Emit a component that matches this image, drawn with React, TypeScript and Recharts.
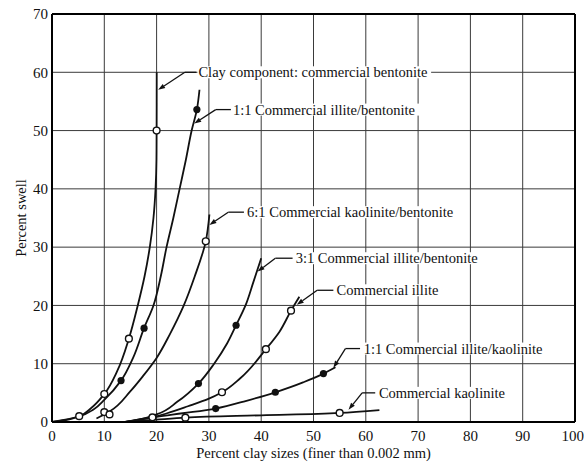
import {
  ComposedChart,
  Line,
  Scatter,
  XAxis,
  YAxis,
  CartesianGrid,
  ReferenceLine,
} from "recharts";

interface Pt {
  x: number;
  y: number;
}

const X_TICKS = [0, 10, 20, 30, 40, 50, 60, 70, 80, 90, 100];
const Y_TICKS = [0, 10, 20, 30, 40, 50, 60, 70];

// fitted curves
const bentoniteCurve: Pt[] = [
  { x: 0, y: 0 }, { x: 2.5, y: 0.3 }, { x: 5.2, y: 1 }, { x: 7.5, y: 2.4 },
  { x: 10, y: 4.8 }, { x: 12.5, y: 8.8 }, { x: 14.7, y: 14.3 }, { x: 16.4, y: 20 },
  { x: 17.7, y: 25 }, { x: 18.7, y: 30 }, { x: 19.4, y: 35 }, { x: 19.8, y: 40 },
  { x: 19.97, y: 45 }, { x: 20, y: 50 }, { x: 20.02, y: 60 },
];
const illiteBent11Curve: Pt[] = [
  { x: 0, y: 0 }, { x: 5, y: 0.9 }, { x: 8, y: 2.2 }, { x: 10, y: 3.8 },
  { x: 13.2, y: 7.1 }, { x: 15.5, y: 11 }, { x: 17.6, y: 16.1 }, { x: 19.4, y: 20 },
  { x: 20.8, y: 25 }, { x: 21.9, y: 30 }, { x: 23.2, y: 35 }, { x: 24.4, y: 40 },
  { x: 25.6, y: 45 }, { x: 26.7, y: 50 }, { x: 27.7, y: 53.6 }, { x: 28.2, y: 57 },
];
const kaoBent61Curve: Pt[] = [
  { x: 8.5, y: 0.6 }, { x: 11, y: 1.8 }, { x: 15, y: 5.3 }, { x: 17.5, y: 8 },
  { x: 20, y: 11 }, { x: 22.5, y: 15 }, { x: 25.2, y: 20 }, { x: 27.3, y: 25 },
  { x: 29.4, y: 31 }, { x: 30.1, y: 35.6 },
];
const illiteBent31Curve: Pt[] = [
  { x: 14, y: 0 }, { x: 17, y: 0.5 }, { x: 20, y: 1.3 }, { x: 24, y: 3.5 },
  { x: 28, y: 6.6 }, { x: 31, y: 10 }, { x: 33.5, y: 13.5 }, { x: 35.2, y: 16.6 },
  { x: 37, y: 20 }, { x: 38.5, y: 24 }, { x: 40, y: 28.1 },
];
const illiteCurve: Pt[] = [
  { x: 14, y: 0 }, { x: 19.2, y: 0.8 }, { x: 22, y: 1.5 }, { x: 26, y: 2.7 },
  { x: 30, y: 4 }, { x: 32.5, y: 5.1 }, { x: 36, y: 7.5 }, { x: 40.9, y: 12.5 },
  { x: 43.5, y: 15.5 }, { x: 45.7, y: 19.1 }, { x: 47.3, y: 21.5 },
];
const illiteKao11Curve: Pt[] = [
  { x: 14, y: 0 }, { x: 20, y: 0.9 }, { x: 25, y: 1.5 }, { x: 31.3, y: 2.3 },
  { x: 37, y: 3.6 }, { x: 42.7, y: 5.1 }, { x: 48, y: 6.8 }, { x: 51.9, y: 8.3 },
  { x: 54.2, y: 9.4 },
];
const kaoliniteCurve: Pt[] = [
  { x: 14, y: 0 }, { x: 20, y: 0.4 }, { x: 25.5, y: 0.75 }, { x: 40, y: 1.15 },
  { x: 55, y: 1.55 }, { x: 62.6, y: 2.05 },
];

// measured points
const openPoints: Pt[] = [
  { x: 5.2, y: 1 }, { x: 10, y: 4.8 }, { x: 14.7, y: 14.3 }, { x: 20, y: 50 },
  { x: 10, y: 1.7 }, { x: 11, y: 1.3 }, { x: 29.4, y: 31 },
  { x: 19.2, y: 0.8 }, { x: 32.5, y: 5.1 }, { x: 40.9, y: 12.5 }, { x: 45.7, y: 19.1 },
  { x: 25.5, y: 0.75 }, { x: 55, y: 1.55 },
];
const filledPoints: Pt[] = [
  { x: 13.2, y: 7.1 }, { x: 17.6, y: 16.1 }, { x: 27.7, y: 53.6 },
  { x: 28, y: 6.6 }, { x: 35.2, y: 16.6 },
  { x: 31.3, y: 2.3 }, { x: 42.7, y: 5.1 }, { x: 51.9, y: 8.3 },
];

// steep curves interpolate along y, flat ones along x
const curves: [Pt[], string][] = [
  [bentoniteCurve, "monotoneY"],
  [illiteBent11Curve, "monotoneY"],
  [kaoBent61Curve, "monotoneY"],
  [illiteBent31Curve, "monotoneY"],
  [illiteCurve, "monotoneY"],
  [illiteKao11Curve, "monotoneX"],
  [kaoliniteCurve, "monotoneX"],
];

// label text, text anchor, leader elbow and arrow tip (data units)
const labelTexts = [
  "Clay component: commercial bentonite",
  "1:1 Commercial illite/bentonite",
  "6:1 Commercial kaolinite/bentonite",
  "3:1 Commercial illite/bentonite",
  "Commercial illite",
  "1:1 Commercial illite/kaolinite",
  "Commercial kaolinite",
];
const labelAt: Pt[] = [
  { x: 28.0, y: 60 }, { x: 34.6, y: 53.6 }, { x: 37.3, y: 36.0 }, { x: 46.6, y: 28.1 },
  { x: 54.4, y: 22.6 }, { x: 59.6, y: 12.6 }, { x: 62.5, y: 5.0 },
];
const leaderStart: Pt[] = [
  { x: 27.6, y: 60 }, { x: 34.2, y: 53.6 }, { x: 36.7, y: 36.0 }, { x: 46.0, y: 28.1 },
  { x: 53.8, y: 22.6 }, { x: 58.9, y: 12.6 }, { x: 61.8, y: 5.0 },
];
const leaderElbow: Pt[] = [
  { x: 25.4, y: 60 }, { x: 31.3, y: 53.6 }, { x: 33.7, y: 36.0 }, { x: 42.7, y: 28.1 },
  { x: 50.7, y: 22.6 }, { x: 56.1, y: 12.6 }, { x: 59.3, y: 5.0 },
];
const leaderTip: Pt[] = [
  { x: 20.3, y: 57 }, { x: 27.2, y: 51.2 }, { x: 30.1, y: 33.8 }, { x: 39.3, y: 25.8 },
  { x: 46.8, y: 20.1 }, { x: 53.8, y: 9.3 }, { x: 56.7, y: 2.1 },
];

const labelData = labelAt.map((p, i) => ({ ...p, text: labelTexts[i] }));

const FONT = "'Liberation Serif', 'Times New Roman', serif";
const LABEL_SIZE = 14.5;

function Arrow(props: any) {
  const { x1, y1, x2, y2 } = props;
  const dx = x2 - x1;
  const dy = y2 - y1;
  const len = Math.sqrt(dx * dx + dy * dy) || 1;
  const ux = dx / len;
  const uy = dy / len;
  const hl = 7;
  const hw = 2.4;
  const bx = x2 - ux * hl;
  const by = y2 - uy * hl;
  return (
    <g>
      <line x1={x1} y1={y1} x2={bx} y2={by} stroke="#111" strokeWidth={1.3} />
      <polygon
        points={`${x2},${y2} ${bx - uy * hw},${by + ux * hw} ${bx + uy * hw},${by - ux * hw}`}
        fill="#111"
      />
    </g>
  );
}

function Plain(props: any) {
  const { x1, y1, x2, y2 } = props;
  return <line x1={x1} y1={y1} x2={x2} y2={y2} stroke="#111" strokeWidth={1.3} />;
}

function LabelShape(p: any) {
  const text: string = p.payload.text;
  const w = text.length * LABEL_SIZE * 0.44 + 4;
  return (
    <g>
      <rect x={p.cx - 1} y={p.cy - 6} width={w} height={12} fill="#fff" />
      <text
        x={p.cx}
        y={p.cy}
        dominantBaseline="central"
        fontFamily={FONT}
        fontSize={LABEL_SIZE}
        fill="#111"
      >
        {text}
      </text>
    </g>
  );
}

export default function App() {
  return (
    <div style={{ position: "absolute", left: 0, top: 0, background: "#fff" }}>
      <ComposedChart
        width={584}
        height={465}
        margin={{ top: 14, right: 9, bottom: 0, left: 0 }}
      >
        <CartesianGrid stroke="#3a3a3a" strokeWidth={1} />
        <XAxis
          dataKey="x"
          type="number"
          domain={[0, 100]}
          ticks={X_TICKS}
          height={43}
          tickLine={false}
          tickSize={0}
          tickMargin={8}
          axisLine={{ stroke: "#000", strokeWidth: 2 }}
          tick={{ fontFamily: FONT, fontSize: 15, fill: "#111" }}
          allowDataOverflow
          label={{
            content: ({ viewBox }: any) => (
              <text
                x={viewBox.x + viewBox.width / 2}
                y={viewBox.y + 31}
                textAnchor="middle"
                dominantBaseline="central"
                fontFamily={FONT}
                fontSize={14.5}
                fill="#111"
              >
                Percent clay sizes (finer than 0.002 mm)
              </text>
            ),
          }}
        />
        <YAxis
          dataKey="y"
          type="number"
          domain={[0, 70]}
          ticks={Y_TICKS}
          width={52}
          tickLine={false}
          tickSize={0}
          tickMargin={4}
          axisLine={{ stroke: "#000", strokeWidth: 2 }}
          tick={{ fontFamily: FONT, fontSize: 15, fill: "#111" }}
          allowDataOverflow
          label={{
            content: ({ viewBox }: any) => {
              const cx = viewBox.x + 21;
              const cy = viewBox.y + viewBox.height / 2;
              return (
                <text
                  x={cx}
                  y={cy}
                  transform={`rotate(-90 ${cx} ${cy})`}
                  textAnchor="middle"
                  dominantBaseline="central"
                  fontFamily={FONT}
                  fontSize={14.5}
                  fill="#111"
                >
                  Percent swell
                </text>
              );
            },
          }}
        />
        <ReferenceLine y={70} stroke="#000" strokeWidth={2} />
        <ReferenceLine x={100} stroke="#000" strokeWidth={2} />

        {labelTexts.map((t, i) => (
          <ReferenceLine
            key={"ls" + i}
            segment={[leaderStart[i], leaderElbow[i]]}
            shape={Plain}
          />
        ))}
        {labelTexts.map((t, i) => (
          <ReferenceLine
            key={"la" + i}
            segment={[leaderElbow[i], leaderTip[i]]}
            shape={Arrow}
          />
        ))}

        {curves.map(([c, kind], i) => (
          <Line
            key={"c" + i}
            data={c}
            dataKey="y"
            type={kind as any}
            stroke="#111"
            strokeWidth={1.8}
            dot={false}
            activeDot={false}
            isAnimationActive={false}
          />
        ))}
        <Scatter
          data={openPoints}
          dataKey="y"
          isAnimationActive={false}
          shape={(p: any) => (
            <circle cx={p.cx} cy={p.cy} r={3.4} fill="#fff" stroke="#111" strokeWidth={1.4} />
          )}
        />
        <Scatter
          data={filledPoints}
          dataKey="y"
          isAnimationActive={false}
          shape={(p: any) => <circle cx={p.cx} cy={p.cy} r={3.6} fill="#111" />}
        />
        <Scatter
          data={labelData}
          dataKey="y"
          isAnimationActive={false}
          shape={LabelShape}
        />
      </ComposedChart>
    </div>
  );
}
